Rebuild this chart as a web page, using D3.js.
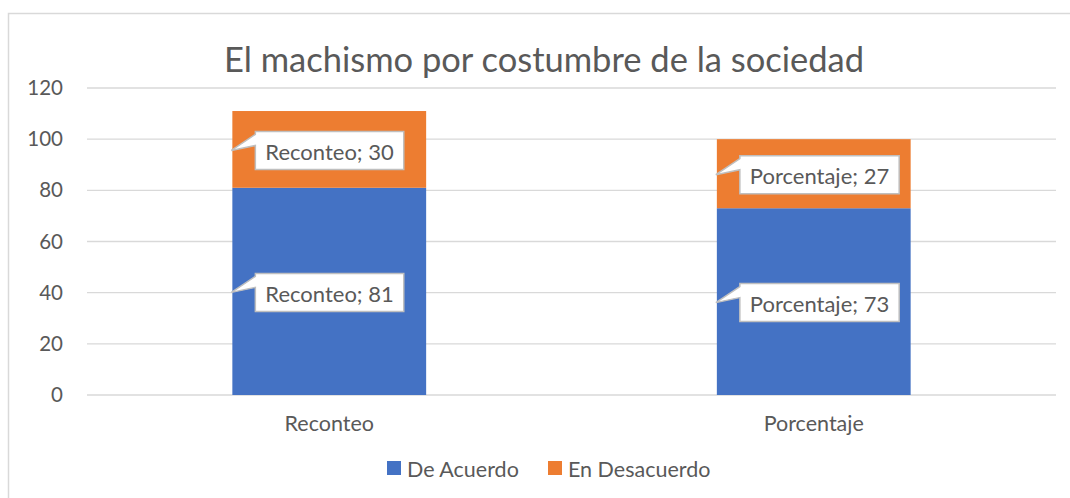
<!DOCTYPE html>
<html>
<head>
<meta charset="utf-8">
<script src="https://cdn.jsdelivr.net/npm/d3@7"></script>
<style>
  body { margin: 0; background: #fff; }
  text { font-family: Lato, "Open Sans", sans-serif; fill: #595959; }
</style>
</head>
<body>
<div id="chart"></div>
<script>
// chart data
const categories = ["Reconteo", "Porcentaje"];
const seriesNames = ["De Acuerdo", "En Desacuerdo"];
const deAcuerdo = [81, 73];
const enDesacuerdo = [30, 27];
const yTicks = [0, 20, 40, 60, 80, 100, 120];
const colors = ["#4472C4", "#ED7D31"];

const width = 1070, height = 498;
const margin = {top: 88, right: 14, bottom: 103, left: 87};

const svg = d3.select("#chart").append("svg")
    .attr("width", width)
    .attr("height", height);

// outer frame (only top and left visible in the picture)
svg.append("path")
    .attr("d", "M8.5," + height + "V13.5H" + width)
    .attr("fill", "none")
    .attr("stroke", "#d9d9d9")
    .attr("stroke-width", 1.5);

const x = d3.scaleBand()
    .domain(categories)
    .range([margin.left, width - margin.right])
    .paddingInner(0.6)
    .paddingOuter(0.3);

const y = d3.scaleLinear()
    .domain([0, 120])
    .range([height - margin.bottom, margin.top]);

// gridlines
svg.append("g")
  .selectAll("line")
  .data(yTicks)
  .join("line")
    .attr("x1", margin.left)
    .attr("x2", width - margin.right)
    .attr("y1", d => y(d))
    .attr("y2", d => y(d))
    .attr("stroke", "#d9d9d9")
    .attr("stroke-width", 1.3);

// y axis labels
const yAxis = d3.axisLeft(y).tickValues(yTicks).tickSize(0).tickPadding(24);
svg.append("g")
    .attr("transform", "translate(" + margin.left + ",0)")
    .call(yAxis)
    .call(g => g.select(".domain").remove())
    .call(g => g.selectAll("text").style("font-size", "20.5px").style("font-family", "Lato, sans-serif").attr("fill", "#595959"));

// x axis labels
const xAxis = d3.axisBottom(x).tickSize(0).tickPadding(21);
svg.append("g")
    .attr("transform", "translate(0," + (height - margin.bottom) + ")")
    .call(xAxis)
    .call(g => g.select(".domain").remove())
    .call(g => g.selectAll("text").style("font-size", "21.5px").style("font-family", "Lato, sans-serif").attr("fill", "#595959"));

// stacked data
const rows = categories.map((c, i) => ({cat: c, "De Acuerdo": deAcuerdo[i], "En Desacuerdo": enDesacuerdo[i]}));
const stacked = d3.stack().keys(seriesNames)(rows);

const layers = svg.append("g")
  .selectAll("g")
  .data(stacked)
  .join("g")
    .attr("fill", (d, i) => colors[i]);

layers.selectAll("rect")
  .data(d => d)
  .join("rect")
    .attr("x", d => x(d.data.cat))
    .attr("y", d => y(d[1]))
    .attr("width", x.bandwidth())
    .attr("height", d => y(d[0]) - y(d[1]));

// callout labels
const labels = [];
stacked.forEach(layer => {
  layer.forEach(d => {
    labels.push({cat: d.data.cat, value: d[1] - d[0], mid: (d[0] + d[1]) / 2});
  });
});

const callouts = svg.append("g").selectAll("g")
  .data(labels)
  .join("g");

callouts.each(function(d) {
  const g = d3.select(this);
  const txt = g.append("text")
      .text(d.cat + "; " + d.value)
      .style("font-size", "22px")
      .attr("dominant-baseline", "central");
  const tw = txt.node().getComputedTextLength();
  const bx = x(d.cat) + 23;
  const bh = 38;
  const cy = y(d.mid) + 1;
  const by = cy - bh / 2;
  const bw = tw + 20;
  const tipX = x(d.cat) - 1, tipY = by + 19;
  const path = "M" + bx + "," + by +
    "H" + (bx + bw) + "V" + (by + bh) + "H" + bx +
    "V" + (by + 14) + "L" + tipX + "," + tipY + "L" + bx + "," + (by + 3) + "Z";
  g.insert("path", "text")
      .attr("d", path)
      .attr("fill", "#fff")
      .attr("stroke", "#bfbfbf")
      .attr("stroke-width", 1.5);
  txt.attr("x", bx + 10).attr("y", cy + 1);
});

// title
svg.append("text")
    .attr("x", 544)
    .attr("y", 58)
    .attr("text-anchor", "middle")
    .attr("dominant-baseline", "central")
    .style("font-size", "34.5px")
    .text("El machismo por costumbre de la sociedad");

// legend
const legend = svg.append("g")
    .attr("transform", "translate(387,468)");
const legX = [0, 161];
const items = legend.selectAll("g")
  .data(seriesNames)
  .join("g")
    .attr("transform", (d, i) => "translate(" + legX[i] + ",0)");
items.append("rect")
    .attr("x", 0).attr("y", -7)
    .attr("width", 14).attr("height", 14)
    .attr("fill", (d, i) => colors[i]);
items.append("text")
    .attr("x", 20).attr("y", 1)
    .attr("dominant-baseline", "central")
    .style("font-size", "21.5px")
    .text(d => d);
</script>
</body>
</html>
